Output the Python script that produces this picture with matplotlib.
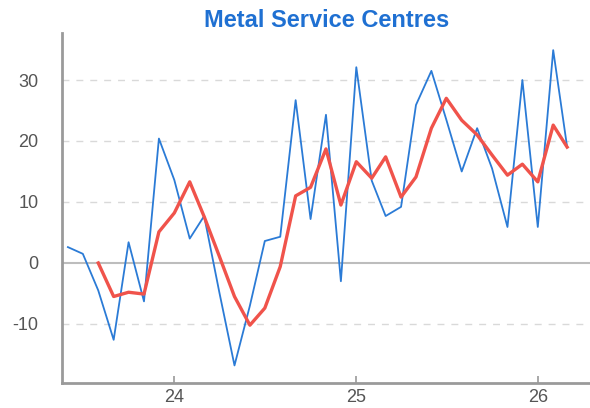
import matplotlib
matplotlib.use("Agg")
import matplotlib.pyplot as plt
import matplotlib.dates as mdates
import pandas as pd

# monthly series, Jun 2023 - Mar 2026
months = pd.date_range("2023-06-01", periods=34, freq="MS")
balance = [2.6, 1.5, -4.5, -12.6, 3.4, -6.3, 20.4, 13.6, 4.0, 7.7,
           -5.0, -16.8, -7.0, 3.6, 4.3, 26.7, 7.2, 24.3, -3.0, 32.1,
           13.5, 7.7, 9.2, 25.9, 31.5, 23.5, 15.0, 22.1, 15.5, 5.9,
           30.0, 5.9, 34.9, 19.0]
# 3-month average (starts at third month)
avg3 = [None, None, 0.0, -5.5, -4.8, -5.1, 5.1, 8.2, 13.3, 7.6,
        1.0, -5.5, -10.2, -7.4, -0.6, 11.0, 12.4, 18.7, 9.5, 16.6,
        13.9, 17.4, 10.8, 14.1, 22.1, 27.0, 23.4, 21.0, 17.7, 14.4,
        16.2, 13.3, 22.6, 19.0]
yticks = [-10, 0, 10, 20, 30]

plt.rcParams["font.family"] = ["Liberation Sans", "DejaVu Sans"]
plt.rcParams["axes.unicode_minus"] = False

fig = plt.figure(figsize=(5.9, 4.08), dpi=100)
ax = fig.add_axes([0.105, 0.061, 0.895, 0.858])

avg_s = pd.Series(avg3, index=months, dtype=float)
ax.plot(months, balance, color="#2b7bd6", lw=1.3, zorder=3)
ax.plot(avg_s.index, avg_s.values, color="#f0534b", lw=2.4, zorder=4,
        solid_joinstyle="round")

ax.set_ylim(-19.7, 37.7)
ax.set_xlim(months[0] - pd.Timedelta(days=12), months[-1] + pd.Timedelta(days=46))
ax.set_yticks(yticks)
for y in yticks:
    if y == 0:
        ax.axhline(0, color="#bdbdbd", lw=1.5, zorder=1)
    else:
        ax.axhline(y, color="#d9d9d9", lw=1.0, ls=(0, (5, 5)), zorder=1)

ax.xaxis.set_major_locator(mdates.YearLocator())
ax.xaxis.set_major_formatter(mdates.DateFormatter("%y"))
ax.tick_params(axis="x", direction="in", length=5, width=1.2, color="#999999",
               labelsize=13, labelcolor="#555555", pad=4)
ax.tick_params(axis="y", length=0, labelsize=13, labelcolor="#555555", pad=17)

for s in ["top", "right"]:
    ax.spines[s].set_visible(False)
for s in ["left", "bottom"]:
    ax.spines[s].set_color("#9a9a9a")
    ax.spines[s].set_linewidth(2)

fig.text(0.554, 0.949, "Metal Service Centres", ha="center", va="center",
         fontsize=17, fontweight="bold", color="#1f70d2")

plt.savefig("out.png", dpi=100)
